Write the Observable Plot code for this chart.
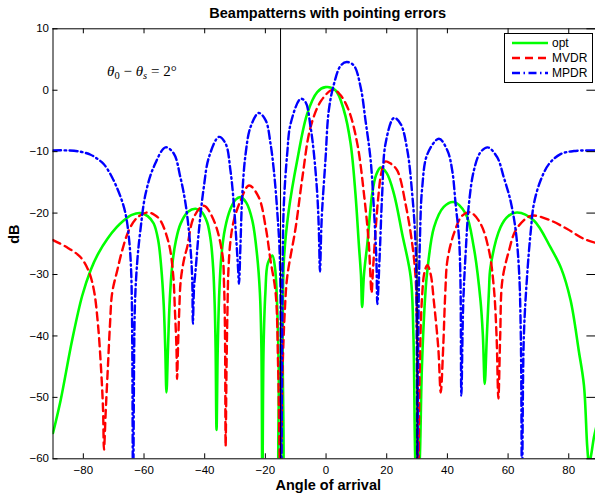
<!DOCTYPE html>
<html><head><meta charset="utf-8">
<script src="https://cdn.jsdelivr.net/npm/d3@7"></script>
<script src="https://cdn.jsdelivr.net/npm/@observablehq/plot@0.6"></script>
<style>
html,body{margin:0;padding:0;background:#fff;overflow:hidden;}
#chart svg{display:block;max-width:none;}
</style></head><body><div id="chart"></div>
<script>
const chartTitle = "Beampatterns with pointing errors";
const xLabel = "Angle of arrival";
const yLabel = "dB";
const xTicks = [-80, -60, -40, -20, 0, 20, 40, 60, 80];
const yTicks = [10, 0, -10, -20, -30, -40, -50, -60];
const markerAngles = [-15, 30];
const seriesNames = ["opt", "MVDR", "MPDR"];
const annotationPos = [-72, 2.3];

const optPoints = [[-90,-55.8],[-87.5,-50.5],[-83.7,-40.7],[-80.4,-33.5],[-77.6,-29.3],[-75,-26.5],[-72.1,-24.2],[-69,-22.3],[-66.7,-21.2],[-64,-20.3],[-61.2,-20.0],[-58.8,-20.5],[-56.8,-21.7],[-55.3,-24.5],[-54.3,-29],[-53.5,-35],[-53,-42],[-52.6,-49.2],[-52.1,-42],[-51.5,-34],[-50.7,-28.5],[-49.5,-24.5],[-48,-21.8],[-45.5,-19.8],[-43,-19.3],[-41,-19.8],[-39.2,-21.5],[-38,-24.5],[-37.2,-29],[-36.7,-35],[-36.4,-42],[-36.1,-55.3],[-35.7,-42],[-35.2,-33],[-34.5,-27],[-33.3,-22.5],[-31.5,-19.3],[-29.8,-17.8],[-28.2,-17.4],[-26.3,-18.3],[-24.3,-21.2],[-22.7,-27.0],[-21.8,-33],[-21.3,-42],[-21.0,-66],[-20.6,-42],[-20.0,-33],[-19.2,-28.2],[-17.7,-26.9],[-16.8,-29],[-16.2,-34],[-15.6,-45],[-15.1,-66],[-14.7,-66],[-14.3,-40],[-13.9,-27.7],[-12.3,-19.6],[-9.5,-11.4],[-6.2,-3.8],[-2.9,-0.3],[-0.2,0.5],[3.1,0.0],[5.9,-3.3],[8.1,-8.7],[9.7,-16.9],[10.8,-25],[11.5,-30],[11.9,-35.3],[12.5,-30],[13.6,-25],[15.2,-16.9],[16.5,-13.8],[18.0,-12.6],[20.0,-13.5],[22.4,-16.9],[25.1,-23.4],[27.9,-30.4],[28.8,-40],[29.4,-60],[30.1,-68],[30.9,-60],[31.6,-45],[32.8,-32.6],[33.4,-29.3],[35.6,-22.3],[38.8,-19],[42.1,-18.2],[46.0,-20.1],[48.7,-25.6],[50.9,-34.2],[51.7,-40],[52.3,-47.8],[53.0,-40],[53.7,-32.6],[54.2,-28.8],[57.5,-22.3],[60.0,-20.5],[63.0,-19.9],[68.5,-21.2],[74.0,-25.6],[77.5,-29],[80.6,-34.2],[83.3,-42.4],[85.0,-48],[86.1,-58.1],[86.7,-61],[87.5,-59],[88.3,-56.5],[90,-53]];

const mvdrPoints = [[-90,-24.4],[-85.3,-25.6],[-80.9,-27.2],[-78.2,-29.5],[-76.5,-32.6],[-75.2,-38],[-74.2,-45],[-73.5,-52],[-73.2,-58.5],[-72.6,-52],[-71.9,-45],[-71.2,-38],[-70.5,-33],[-68.8,-29.3],[-67.2,-26.1],[-65,-22.8],[-62.2,-20.7],[-58.9,-19.9],[-56.5,-20.3],[-54.6,-21.2],[-51.8,-25],[-50.4,-30],[-49.8,-36],[-49.3,-42],[-49.1,-47],[-48.8,-42],[-48.4,-36],[-47.9,-31],[-46.8,-27.5],[-45.8,-25.6],[-43.6,-20.7],[-40.3,-18.8],[-37,-21.2],[-34.2,-26.6],[-33.6,-32],[-33.3,-40],[-33.1,-58],[-32.8,-45],[-32.5,-36],[-32.2,-29.5],[-31.5,-24.5],[-30.4,-21.2],[-28.2,-18],[-25.4,-15.5],[-22.2,-17.4],[-19.9,-22.3],[-18.3,-27.7],[-16.6,-33.1],[-15.8,-45],[-15.0,-65],[-14.3,-45],[-13.6,-36],[-12.8,-30.4],[-10,-22.3],[-7.8,-14.2],[-5.1,-6],[-1.6,-1.7],[2.3,0.1],[4.6,-0.7],[7.5,-3.3],[10.3,-8.7],[12.5,-16.9],[14.1,-25],[14.6,-30],[15.0,-33],[15.5,-29],[16.3,-23],[17.2,-17.5],[18.2,-13.5],[19.5,-11.6],[21.2,-11.9],[23.5,-13.1],[26.2,-18.5],[28.4,-25],[29.5,-30.4],[30.0,-40],[30.4,-65],[30.9,-45],[31.6,-34],[32.5,-29.5],[33.4,-28.5],[34.5,-30],[35.5,-34.2],[37,-42],[37.8,-49.2],[38.6,-42],[39.3,-33],[40,-27.7],[42.1,-23.4],[44.9,-20.4],[47.6,-19.9],[50.9,-21.7],[53.7,-26.1],[55.3,-32.1],[56.2,-40],[56.8,-50.2],[57.4,-40],[58.1,-31],[60.3,-26.1],[62.5,-22.8],[66.4,-20.7],[68.5,-20.4],[74,-21.2],[79.5,-22.6],[85,-24.2],[90,-25]];

const mpdrPoints = [[-90,-9.8],[-85,-9.8],[-81,-10.0],[-77.6,-10.5],[-75.3,-11.2],[-73.3,-12.0],[-70.5,-14.2],[-67.7,-17.4],[-66.1,-20.1],[-65.0,-23.9],[-64.2,-30],[-63.6,-65],[-63.0,-35],[-62.2,-27.7],[-61.2,-22.8],[-59.5,-16.9],[-56.8,-12.5],[-52.9,-9.3],[-50.2,-10.3],[-48,-14.2],[-46.3,-18.5],[-44.7,-25.6],[-44.1,-31],[-43.9,-38],[-43.5,-32],[-43.0,-29.3],[-41.9,-22.8],[-40.3,-15.8],[-38.6,-10.9],[-35.3,-7.6],[-33.1,-8.7],[-31.5,-13.1],[-30.4,-18.5],[-29.5,-25],[-29.0,-29],[-28.7,-31.5],[-28.2,-25],[-27.6,-16.9],[-26.5,-10.3],[-24.9,-6.0],[-22.2,-3.7],[-19.9,-4.9],[-18.3,-8.7],[-17.2,-13.1],[-16.1,-19.6],[-15.2,-27.7],[-14.8,-65],[-14.3,-28],[-13.9,-18.5],[-12.8,-10.3],[-11.7,-5.5],[-8.4,-1.4],[-6.8,-1.9],[-5.1,-6.0],[-4.0,-10.3],[-2.9,-16.9],[-2.4,-22.3],[-2.0,-29.5],[-1.6,-23],[-1.3,-19.6],[-0.2,-11.4],[0.9,-3.3],[2.6,1.0],[4.8,4.0],[6.8,4.6],[9.2,4.0],[11.4,0.5],[13.0,-4.9],[14.7,-11.4],[15.8,-19.6],[16.6,-27.7],[16.9,-34.8],[17.7,-26.6],[18.5,-16.9],[19.6,-8.7],[22.4,-4.5],[24.6,-5.5],[26.8,-9.8],[28.4,-16.9],[29.5,-25],[29.9,-40],[30.1,-65],[30.4,-40],[30.9,-25],[31.7,-15.8],[33.4,-10.4],[37.2,-7.9],[40,-9.8],[41.6,-13.1],[42.7,-18.5],[43.8,-23.9],[44.3,-31],[44.6,-49.7],[45.2,-35],[46,-26.6],[47.1,-18.5],[48.7,-13.1],[50.9,-10.1],[53.3,-9.3],[56.4,-10.9],[58.6,-14.2],[60.8,-18],[62.5,-22.8],[63.6,-29.3],[64.2,-40],[64.6,-65],[65.2,-40],[66.4,-29.3],[67.5,-22.8],[68.5,-18.5],[70.7,-14.7],[73.5,-12],[77.3,-10.4],[81.7,-9.9],[90,-9.8]];

const toRows = pts => pts.map(([x, y]) => ({x, y}));
const opt = toRows(optPoints), mvdr = toRows(mvdrPoints), mpdr = toRows(mpdrPoints);

const W = 595, H = 493;
const ML = 52.5, MT = 28.3, MB = H - 458.3;
const FH = H - MT - MB; // frame height
const xRight = 598.6;
const FW = W - ML;       // visible frame width
const tick = 5;
const sans = "'Liberation Sans', Arial, Helvetica, sans-serif";

const styles = {
  opt: {stroke: "#00ff00", strokeWidth: 2.6},
  MVDR: {stroke: "#ff0000", strokeWidth: 2.4, strokeDasharray: "8,5"},
  MPDR: {stroke: "#0000ff", strokeWidth: 2.4, strokeDasharray: "8,3.5,1.5,3.5"}
};

const plot = Plot.plot({
  width: W, height: H,
  marginLeft: ML, marginRight: 0, marginTop: MT, marginBottom: MB,
  x: {domain: [-90, 90], range: [ML, xRight]},
  y: {domain: [-60, 10]},
  style: {fontFamily: sans, fontSize: "11.5px", color: "#000", background: "#fff", overflow: "hidden"},
  marks: [
    Plot.line(opt, {x: "x", y: "y", ...styles.opt, curve: "catmull-rom", clip: true}),
    Plot.line(mvdr, {x: "x", y: "y", ...styles.MVDR, curve: "catmull-rom", clip: true}),
    Plot.line(mpdr, {x: "x", y: "y", ...styles.MPDR, curve: "catmull-rom", clip: true}),
    Plot.ruleX(markerAngles, {stroke: "#000", strokeWidth: 1}),
    Plot.ruleY([-60, 10], {stroke: "#000", strokeWidth: 1}),
    Plot.ruleX([-90], {stroke: "#000", strokeWidth: 1}),
    Plot.tickX(xTicks, {x: d => d, insetTop: FH - tick, stroke: "#000"}),
    Plot.tickX(xTicks, {x: d => d, insetBottom: FH - tick, stroke: "#000"}),
    Plot.tickY(yTicks, {y: d => d, insetRight: FW - tick, stroke: "#000"}),
    Plot.tickY(yTicks, {y: d => d, insetLeft: FW - (xRight - W) - tick, stroke: "#000"}),
    Plot.axisX({ticks: xTicks, tickSize: 0, tickPadding: 7, fontSize: 11.5, label: null}),
    Plot.axisY({ticks: yTicks, tickSize: 0, tickPadding: 4, fontSize: 11.5, label: null}),
    Plot.text([chartTitle], {frameAnchor: "top", dx: 3.5, dy: -15, fontWeight: "bold", fontSize: 14.5, lineAnchor: "middle"}),
    Plot.text([xLabel], {frameAnchor: "bottom", dx: 4, dy: 26.5, fontWeight: "bold", fontSize: 14.5, lineAnchor: "middle"}),
    Plot.text([yLabel], {frameAnchor: "left", dx: -38.5, rotate: -90, fontWeight: "bold", fontSize: 14.5, lineAnchor: "middle"})
  ]
});

const svg = d3.select(plot);
const sx = plot.scale("x"), sy = plot.scale("y");

// annotation
const ann = svg.append("text")
  .attr("x", sx.apply(annotationPos[0])).attr("y", sy.apply(annotationPos[1]))
  .attr("text-anchor", "start")
  .attr("font-family", "'Liberation Serif', 'DejaVu Serif', serif").attr("font-size", 15).attr("fill", "#000");
ann.append("tspan").attr("font-style", "italic").text("θ");
ann.append("tspan").attr("font-size", 10.5).attr("dy", 3).text("0");
ann.append("tspan").attr("dy", -3).text(" − ");
ann.append("tspan").attr("font-style", "italic").text("θ");
ann.append("tspan").attr("font-size", 10.5).attr("font-style", "italic").attr("dy", 3).text("s");
ann.append("tspan").attr("dy", -3).text(" = 2°");

// legend
const lg = svg.append("g").attr("font-family", sans).attr("font-size", 12).attr("text-anchor", "start");
lg.append("rect").attr("x", 504.5).attr("y", 33.5).attr("width", 88).attr("height", 49)
  .attr("fill", "#fff").attr("stroke", "#000").attr("stroke-width", 1);
seriesNames.forEach((name, i) => {
  const y = 43 + i * 15;
  const s = styles[name];
  lg.append("line").attr("x1", 512).attr("x2", 548).attr("y1", y).attr("y2", y)
    .attr("stroke", s.stroke).attr("stroke-width", s.strokeWidth)
    .attr("stroke-dasharray", s.strokeDasharray || null);
  lg.append("text").attr("x", 552).attr("y", y).attr("dy", "0.35em").attr("fill", "#000").text(name);
});

document.getElementById("chart").appendChild(plot);
</script>
</body></html>
